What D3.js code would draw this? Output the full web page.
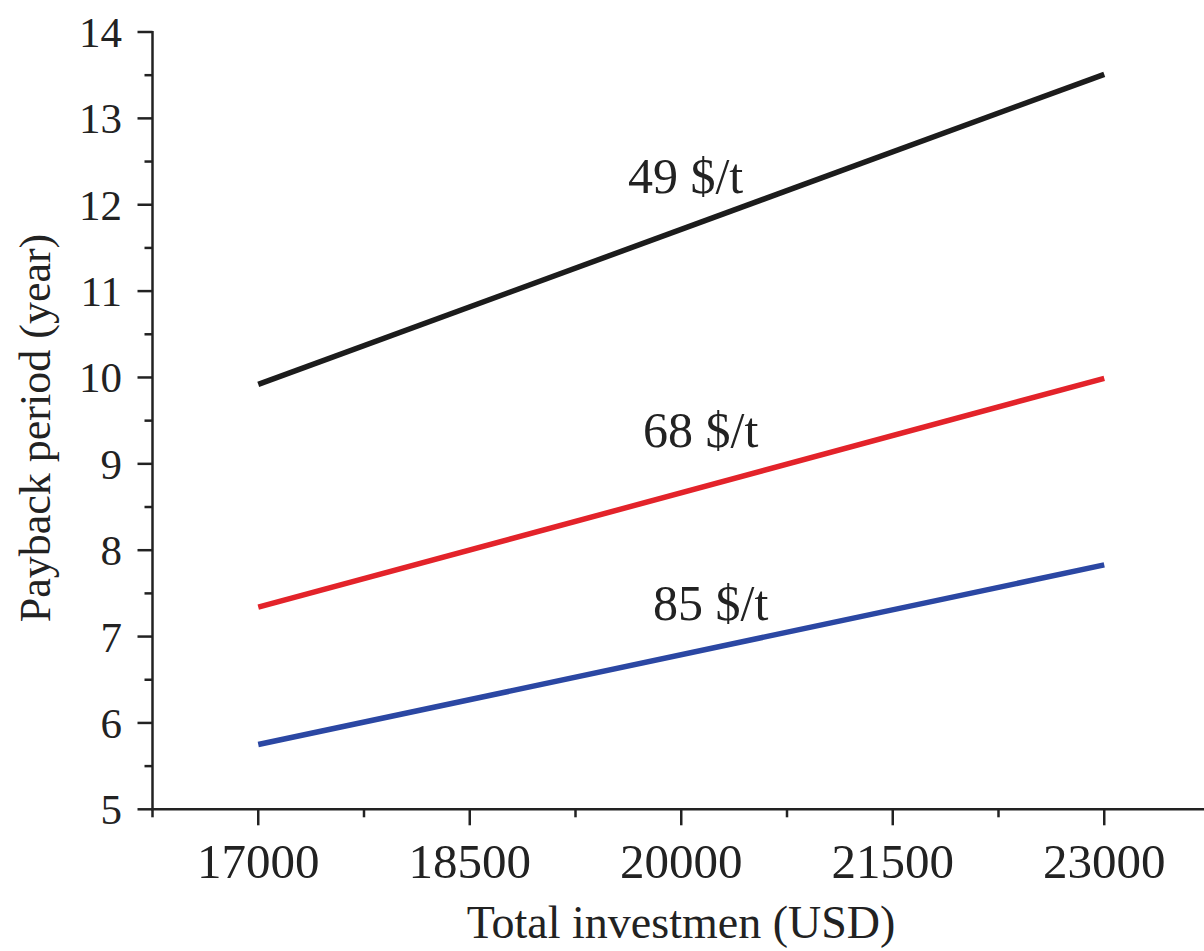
<!DOCTYPE html>
<html><head><meta charset="utf-8">
<script src="https://cdn.jsdelivr.net/npm/d3@7"></script>
<style>
html,body{margin:0;padding:0;background:#fff;}
text{font-family:"Liberation Serif","Times New Roman",serif;fill:#222;}
</style></head>
<body><svg id="c" width="1204" height="951"></svg>
<script>
const xTicks = [17000, 18500, 20000, 21500, 23000];
const yTicks = [5, 6, 7, 8, 9, 10, 11, 12, 13, 14];
const investment = [17000, 23000];
const series49 = [9.92, 13.51];
const series68 = [7.34, 9.99];
const series85 = [5.75, 7.83];
const seriesNames = ["49 $/t", "68 $/t", "85 $/t"];

const svg = d3.select("#c");
const x = d3.scaleLinear().domain([16250, 23750]).range([152.5, 1210]);
const y = d3.scaleLinear().domain([5, 14]).range([809.3, 32]);

const xMinor = d3.range(16250, 23751, 1500);
const yMinor = d3.range(5.5, 14, 1);

const ax = svg.append("g").attr("stroke", "#222");
ax.selectAll(".xmaj").data(xTicks).join("line")
  .attr("x1", d => x(d)).attr("x2", d => x(d)).attr("y1", y(5)).attr("y2", y(5) + 16)
  .attr("stroke-width", 2.5);
ax.selectAll(".xmin").data(xMinor).join("line")
  .attr("x1", d => x(d)).attr("x2", d => x(d)).attr("y1", y(5)).attr("y2", y(5) + 8)
  .attr("stroke-width", 2.5);
ax.selectAll(".ymaj").data(yTicks).join("line")
  .attr("x1", x(16250) - 15).attr("x2", x(16250)).attr("y1", d => y(d)).attr("y2", d => y(d))
  .attr("stroke-width", 2.5);
ax.selectAll(".ymin").data(yMinor).join("line")
  .attr("x1", x(16250) - 8).attr("x2", x(16250)).attr("y1", d => y(d)).attr("y2", d => y(d))
  .attr("stroke-width", 2.5);
ax.append("line").attr("x1", x(16250)).attr("x2", x(16250)).attr("y1", y(14) - 1).attr("y2", y(5) + 1).attr("stroke-width", 2.5);
ax.append("line").attr("x1", x(16250) - 1).attr("x2", 1210).attr("y1", y(5)).attr("y2", y(5)).attr("stroke-width", 2.5);

svg.selectAll(".xl").data(xTicks).join("text")
  .attr("x", d => x(d)).attr("y", 878).attr("text-anchor", "middle")
  .attr("font-size", 49).text(d => d);
svg.selectAll(".yl").data(yTicks).join("text")
  .attr("x", 122).attr("y", d => y(d) + 15).attr("text-anchor", "end")
  .attr("font-size", 43).text(d => d);

svg.append("text").attr("x", 681).attr("y", 938).attr("text-anchor", "middle")
  .attr("font-size", 46).text("Total investmen (USD)");
svg.append("text").attr("transform", "translate(50,428) rotate(-90)").attr("text-anchor", "middle")
  .attr("font-size", 44).text("Payback period (year)");

const line = d3.line().x(d => x(d[0])).y(d => y(d[1]));
const all = [series49, series68, series85];
const colors = ["#1c1c1c", "#e3232a", "#2b47a3"];
all.forEach((s, i) => {
  svg.append("path").datum(investment.map((v, j) => [v, s[j]]))
    .attr("d", line).attr("fill", "none").attr("stroke", colors[i]).attr("stroke-width", 5.5);
});

const labelPos = [[19622, 12.14], [19729, 9.20], [19800, 7.19]];
seriesNames.forEach((n, i) => {
  svg.append("text").attr("x", x(labelPos[i][0])).attr("y", y(labelPos[i][1]))
    .attr("font-size", 50).text(n);
});
</script></body></html>
